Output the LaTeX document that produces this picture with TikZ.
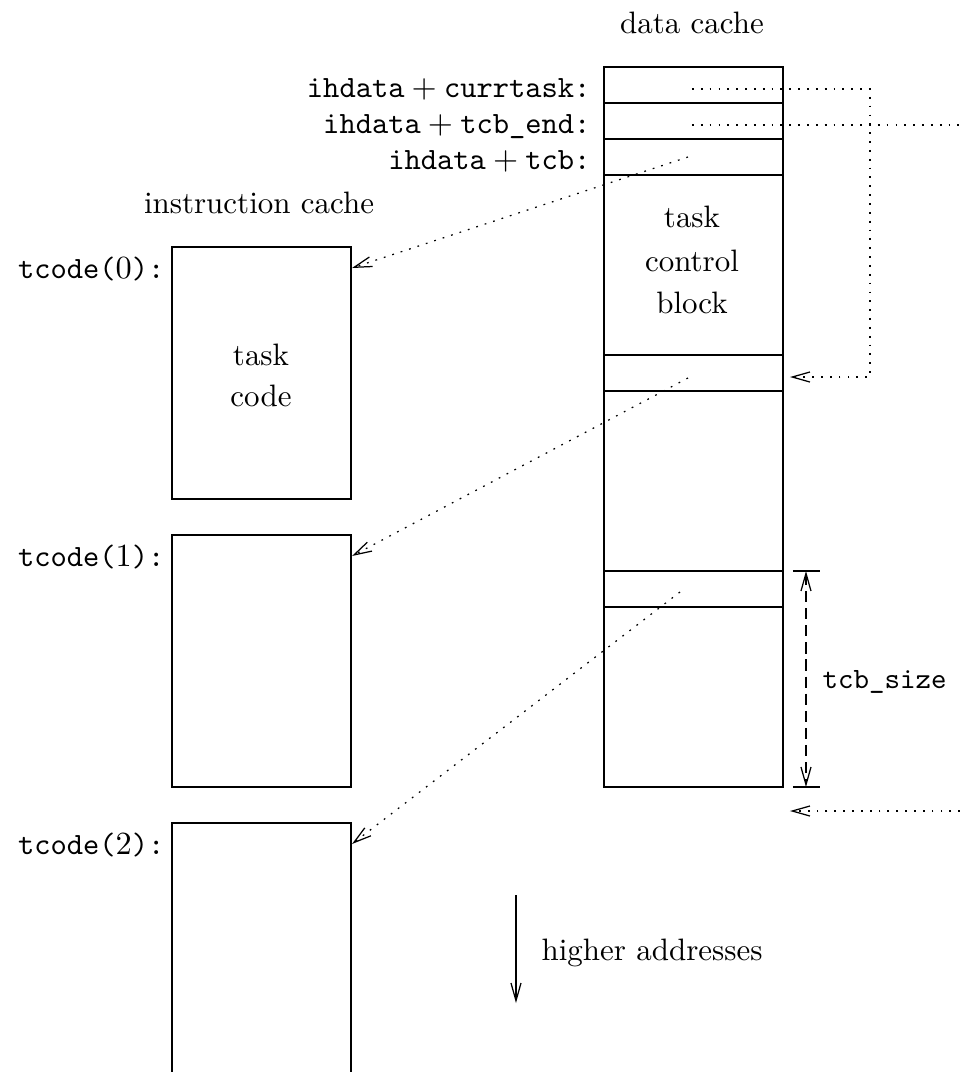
\documentclass[tikz,border=0pt]{standalone}
\usetikzlibrary{arrows.meta}
\begin{document}
\begin{tikzpicture}[x=0.339pt,y=-0.339pt, line width=0.42pt,
  every node/.style={font=\fontsize{10.5}{12.6}\selectfont},
  cell/.style={draw, inner sep=0pt, outer sep=0pt, anchor=north west, minimum width=60.68pt},
  smallcell/.style={cell, minimum height=12.2pt},
  bigcell/.style={cell, minimum height=61.02pt},
  codebox/.style={cell, minimum height=85.43pt},
  lbl/.style={inner sep=0pt, anchor=base east},
  txt/.style={inner sep=0pt, anchor=base},
  tip/.style={-{Straight Barb[length=6pt,width=3.4pt]}},
  dots/.style={dash pattern=on 0.6pt off 2.4pt},
  ptr/.style={dots, tip}]
\useasboundingbox (0,0) rectangle (960,1072);

% data cache
\node[txt] (dctitle) at (692,33) {data cache};
\node[smallcell] (c1) at (604,67) {};
\node[smallcell] (c2) at (604,103) {};
\node[smallcell] (c3) at (604,139) {};
\node[bigcell] (tcb0) at (604,175) {};
\node[smallcell] (r0) at (604,355) {};
\node[bigcell] (b1) at (604,391) {};
\node[smallcell] (r1) at (604,571) {};
\node[bigcell] (b2) at (604,607) {};

\node[txt] (t1) at (692,227) {task};
\node[txt] (t2) at (692,271) {control};
\node[txt] (t3) at (692,313) {block};

\node[lbl] (l1) at (591,97) {\texttt{ihdata}${}+{}$\texttt{currtask:}};
\node[lbl] (l2) at (591,133) {\texttt{ihdata}${}+{}$\texttt{tcb\_end:}};
\node[lbl] (l3) at (591,169) {\texttt{ihdata}${}+{}$\texttt{tcb:}};

% instruction cache
\node[txt] (ictitle) at (259,213) {instruction cache};
\node[codebox] (k0) at (172,247) {};
\node[codebox] (k1) at (172,535) {};
\draw (172,1080) -- (172,823) coordinate (k2nw) -- (351,823) coordinate (k2ne) -- (351,1080);
\node[txt] (tc1) at (261,365) {task};
\node[txt] (tc2) at (261,406) {code};

\node[lbl] (kl0) at (165,278) {\texttt{tcode(}$0$\texttt{):}};
\node[lbl] (kl1) at (165,566) {\texttt{tcode(}$1$\texttt{):}};
\node[lbl] (kl2) at (165,854) {\texttt{tcode(}$2$\texttt{):}};

% pointer sources and targets
\coordinate (s1) at (688,157);
\coordinate (s2) at (688,378);
\coordinate (s3) at (680,592);
\coordinate (e0) at (352,268);
\coordinate (e1) at (352,556);
\coordinate (e2) at (352,844);
\draw[ptr] (s1) -- (e0);
\draw[ptr] (s2) -- (e1);
\draw[ptr] (s3) -- (e2);

\coordinate (s4) at (692,89);
\coordinate (bend4a) at (870,89);
\coordinate (bend4b) at (870,377);
\coordinate (e4) at (790,377);
\draw[ptr] (s4) -- (bend4a) -- (bend4b) -- (e4);

\coordinate (s5) at (692,125);
\coordinate (out5) at (960,125);
\draw[dots] (s5) -- (out5);

\coordinate (in6) at (960,811);
\coordinate (e6) at (790,811);
\draw[ptr] (in6) -- (e6);

% tcb_size dimension
\coordinate (d1) at (806,571);
\coordinate (d2) at (806,787);
\draw (793,571) -- (820,571);
\draw (793,787) -- (820,787);
\draw[dash pattern=on 3.8pt off 2pt, {Straight Barb[length=6pt,width=3.4pt]}-{Straight Barb[length=6pt,width=3.4pt]}] (d1) -- (d2);
\node[inner sep=0pt, anchor=base west, font=\fontsize{10}{12}\selectfont] (sz) at (822,688) {\texttt{tcb\_size}};

% higher addresses
\coordinate (h1) at (516,895);
\coordinate (h2) at (516,1003);
\draw[tip] (h1) -- (h2);
\node[inner sep=0pt, anchor=base west] (ha) at (541,960) {higher addresses};
\end{tikzpicture}
\end{document}
